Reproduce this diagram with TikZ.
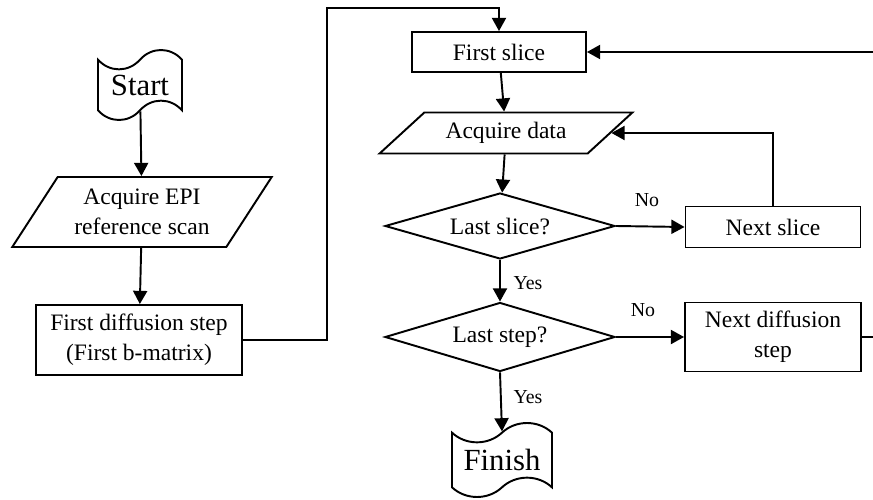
\documentclass[tikz,border=0pt]{standalone}
\usepackage{fontspec}
\setmainfont{Liberation Serif}
\usetikzlibrary{arrows.meta,shapes.geometric,shapes.symbols}

\tikzset{
  base/.style={draw, line width=1.1pt, align=center, inner sep=2pt,
    font=\fontsize{13.4}{17}\selectfont},
  procbox/.style={base, rectangle},
  iobox/.style={base, trapezium, trapezium stretches=true,
    trapezium left angle=#1, trapezium right angle=180-#1},
  testbox/.style={base, diamond, aspect=3.4, inner sep=0pt},
  flagbox/.style={base, tape, tape bend height=11pt,
    font=\fontsize{17.5}{20}\selectfont},
  lbl/.style={font=\fontsize{11.3}{13}\selectfont, inner sep=1pt},
  arr/.style={line width=1.1pt, -{Triangle[length=7.5pt,width=8pt]}},
  ln/.style={line width=1.1pt}
}

\begin{document}
\begin{tikzpicture}[x=0.02cm,y=-0.02cm]
\useasboundingbox (0,0) rectangle (873,500);

%% left column
\node[flagbox, minimum width=1.68cm, minimum height=1.4cm] (start) at (140,85) {Start};
\node[iobox=54, minimum width=5.2cm, minimum height=1.4cm] (acq1) at (142,212) {Acquire EPI\\reference scan};
\node[procbox, minimum width=4.12cm, minimum height=1.4cm] (diff1) at (139,340) {First diffusion step\\(First b-matrix)};

%% middle column
\node[procbox, minimum width=3.48cm, minimum height=0.8cm] (slice1) at (499,52) {First slice};
\node[iobox=39, minimum width=5.06cm, minimum height=0.82cm] (acq2) at (506,133) {Acquire data};
\node[testbox, minimum width=4.6cm, minimum height=1.32cm] (last1) at (500,226) {Last slice?};
\node[testbox, minimum width=4.6cm, minimum height=1.38cm] (last2) at (500,337) {Last step?};
\node[flagbox, minimum width=2cm, minimum height=1.48cm] (finish) at (502,460) {Finish};

%% right column
\node[procbox, minimum width=3.5cm, minimum height=0.82cm] (next1) at (773,227) {Next slice};
\node[procbox, minimum width=3.52cm, minimum height=1.38cm] (next2) at (773,337) {Next diffusion\\step};

%% branch labels
\node[lbl] (no1) at (647,200) {No};
\node[lbl] (no2) at (643,310) {No};
\node[lbl] (yes1) at (528,283) {Yes};
\node[lbl] (yes2) at (528,397) {Yes};

%% loose ends at the right margin
\coordinate (turn) at (327,8);
\coordinate (edge1) at (873,52);
\coordinate (edge2) at (873,337);

%% connectors
\draw[arr] (start) -- (acq1);
\draw[arr] (acq1) -- (diff1);
\draw[arr] (diff1.east) -| (turn) -| (slice1.north);
\draw[arr] (edge1) -- (slice1.east);
\draw[arr] (slice1) -- (acq2);
\draw[arr] (acq2) -- (last1);
\draw[arr] (last1.east) -- (next1.west);
\draw[arr] (next1.north) |- (acq2.east);
\draw[arr] (last1.south) -- (last2.north);
\draw[arr] (last2.east) -- (next2.west);
\draw[ln] (next2.east) -- (edge2);
\draw[arr] (last2.south) -- (finish.north);

\end{tikzpicture}
\end{document}
